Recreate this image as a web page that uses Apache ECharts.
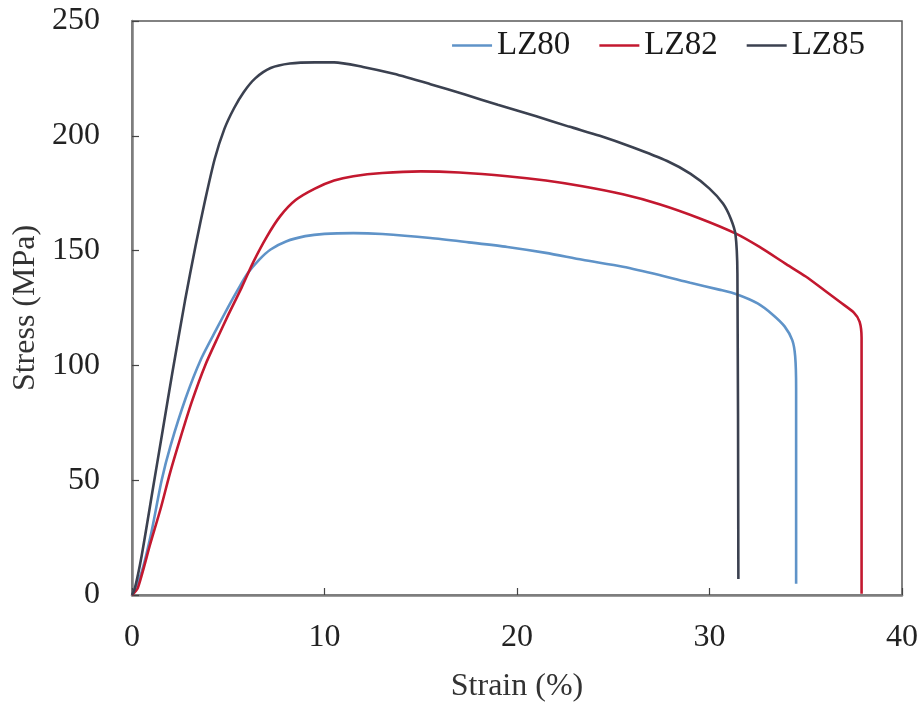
<!DOCTYPE html>
<html>
<head>
<meta charset="utf-8">
<script src="https://cdn.jsdelivr.net/npm/echarts@6/dist/echarts.min.js"></script>
<style>html,body{margin:0;padding:0;background:#fff;}#c{width:923px;height:708px;}</style>
</head>
<body>
<div id="c"></div>
<script>
const seriesNames = ['LZ80', 'LZ82', 'LZ85'];
const xTicks = [0, 10, 20, 30, 40];
const yTicks = [0, 50, 100, 150, 200, 250];

const lz80 = [[0,0],[0.5,10],[1.0,27],[1.54,50],[2.0,65],[2.8,86],[3.6,103],[4.4,116],[5.0,125.5],[5.5,133],[6.0,140],[6.6,146],[7.2,150.5],[8.0,154],[9.0,156.3],[10.0,157.3],[11.5,157.6],[13.0,157.2],[15.5,155.5],[17.5,153.6],[19.5,151.6],[21.5,149],[23.4,146],[25.5,143],[27.4,139.4],[29.0,136],[30.5,133],[31.4,131],[32.5,127],[33.3,122],[33.9,117],[34.3,111],[34.45,104],[34.5,90],[34.5,4.9]];

const lz82 = [[0,0],[0.3,3],[0.94,22],[1.5,38],[1.97,53],[2.5,68],[3.1,84],[3.8,100],[4.5,113],[5.0,122],[5.7,134],[6.3,145],[7.0,156],[7.7,165],[8.5,172],[9.5,177],[10.5,180.5],[11.5,182.4],[13.0,183.8],[15.0,184.5],[17.0,184],[19.5,182.4],[21.5,180.5],[23.4,178],[25.5,174.5],[27.4,170.2],[29.5,164],[31.4,157.3],[32.6,151.6],[34.0,144],[35.0,138.7],[36.0,132.5],[36.8,127.5],[37.5,123],[37.8,119],[37.9,112],[37.9,0.5]];

const lz85 = [[0,0],[0.15,3],[0.5,17],[1.1,47],[1.6,72],[2.1,97],[2.75,128],[3.3,152],[3.8,172],[4.3,190],[4.8,203],[5.3,212],[5.8,219],[6.4,225],[7.2,229.5],[8.2,231.5],[9.5,232],[10.5,232],[12.0,230],[13.6,227],[15.5,222.5],[17.3,218],[19.0,213.5],[21.0,208.5],[22.7,204],[24.3,200],[26.0,195],[27.8,189],[29.0,183.5],[30.0,177],[30.7,170.5],[31.1,164],[31.35,157],[31.45,140],[31.5,7]];

const seriesData = [lz80, lz82, lz85];
const colors = ['#5f93c8', '#c3182f', '#3b4150'];

const chart = echarts.init(document.getElementById('c'), null, {renderer: 'canvas'});
const font = '"Liberation Serif", "Times New Roman", serif';
chart.setOption({
  animation: false,
  backgroundColor: '#fff',
  color: colors,
  textStyle: {fontFamily: font},
  grid: {left: 132, right: 21, top: 21, bottom: 105, show: true, borderColor: '#5a5a5a', borderWidth: 1.5, backgroundColor: 'transparent'},
  legend: {
    data: seriesNames,
    right: 53, top: 24,
    itemWidth: 40, itemHeight: 2.5, itemGap: 29,
    icon: 'rect',
    textStyle: {fontFamily: font, fontSize: 33, color: '#1a1a1a'}
  },
  xAxis: {
    type: 'value', min: xTicks[0], max: xTicks[xTicks.length - 1], interval: 10,
    name: 'Strain (%)', nameLocation: 'middle', nameGap: 76,
    nameTextStyle: {fontFamily: font, fontSize: 32, color: '#333'},
    axisLine: {show: true, lineStyle: {color: '#7d7d7d', width: 2.5}},
    axisTick: {show: true, inside: true, length: 7, lineStyle: {color: '#444', width: 1.2}},
    axisLabel: {fontFamily: font, fontSize: 32, color: '#222', margin: 27},
    splitLine: {show: false}
  },
  yAxis: {
    type: 'value', min: yTicks[0], max: yTicks[yTicks.length - 1], interval: 50,
    name: 'Stress (MPa)', nameLocation: 'middle', nameGap: 89,
    nameTextStyle: {fontFamily: font, fontSize: 32, color: '#333'},
    axisLine: {show: true, lineStyle: {color: '#7d7d7d', width: 2.5}},
    axisTick: {show: true, inside: true, length: 7, lineStyle: {color: '#444', width: 1.2}},
    axisLabel: {fontFamily: font, fontSize: 32, color: '#222', margin: 32},
    splitLine: {show: false}
  },
  series: seriesNames.map((n, i) => ({
    name: n, type: 'line', data: seriesData[i], showSymbol: false, symbol: 'none',
    smooth: 0.25,
    lineStyle: {width: 2.6, color: colors[i]},
    itemStyle: {color: colors[i]}
  }))
});
</script>
</body>
</html>
